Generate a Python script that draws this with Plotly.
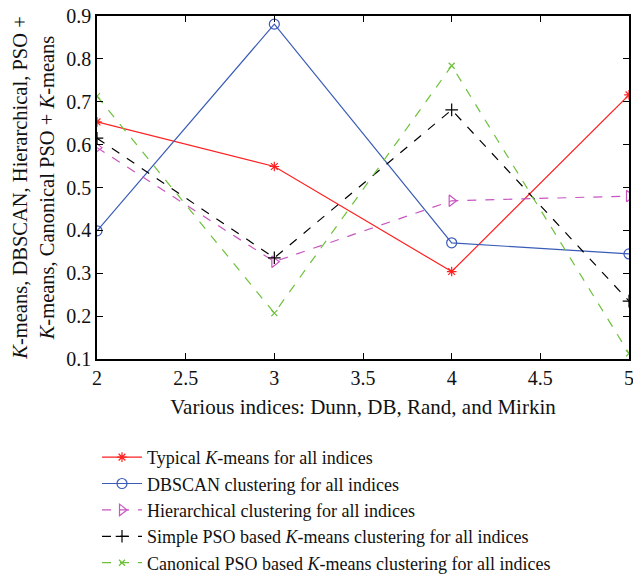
import plotly.graph_objects as go

x_vals = [2, 3, 4, 5]
typical_kmeans = [0.653, 0.549, 0.304, 0.716]
dbscan = [0.399, 0.881, 0.371, 0.345]
hierarchical = [0.593, 0.327, 0.469, 0.480]
simple_pso = [0.615, 0.336, 0.681, 0.235]
canonical_pso = [0.713, 0.207, 0.784, 0.113]

names = [
    "Typical <i>K</i>-means for all indices",
    "DBSCAN clustering for all indices",
    "Hierarchical clustering for all indices",
    "Simple PSO based <i>K</i>-means clustering for all indices",
    "Canonical PSO based <i>K</i>-means clustering for all indices",
]
series = [typical_kmeans, dbscan, hierarchical, simple_pso, canonical_pso]
colors = ["#ff2020", "#3a5cb8", "#c855c0", "#000000", "#6cc13a"]
dashes = ["solid", "solid", "dash", "dash", "dash"]
symbols = ["asterisk-open", "circle-open", "triangle-right-open", "cross-thin-open", "x-thin-open"]
sizes = [8, 10, 10, 9, 6]

fig = go.Figure()
for n, s, c, d, sym, sz in zip(names, series, colors, dashes, symbols, sizes):
    fig.add_trace(go.Scatter(
        x=x_vals, y=s, name=n, mode="lines+markers",
        line=dict(color=c, width=1.2, dash=d),
        marker=dict(symbol=sym, size=sz, color=c, line=dict(color=c, width=1.2)),
    ))

font_family = "Liberation Serif, Times New Roman, serif"
fig.update_layout(
    width=633, height=576,
    margin=dict(l=97, r=4, t=16, b=217, autoexpand=False),
    paper_bgcolor="white", plot_bgcolor="white",
    font=dict(family=font_family, size=20, color="#111"),
    showlegend=True,
    legend=dict(
        x=0.0, y=-0.233, xanchor="left", yanchor="top",
        font=dict(family=font_family, size=18, color="#111"),
        bgcolor="rgba(0,0,0,0)", tracegroupgap=0, itemwidth=40,
    ),
    xaxis=dict(
        range=[2, 5], tickvals=[2, 2.5, 3, 3.5, 4, 4.5, 5],
        ticktext=["2", "2.5", "3", "3.5", "4", "4.5", "5"],
        showgrid=False, zeroline=False,
        showline=True, linecolor="black", linewidth=1.5, mirror="ticks",
        ticks="inside", ticklen=6, tickcolor="black",
        tickfont=dict(size=20), ticklabeloverflow="allow",
        title=dict(text="Various indices: Dunn, DB, Rand, and Mirkin", standoff=12,
                   font=dict(size=21)),
    ),
    yaxis=dict(
        range=[0.1, 0.9], tickvals=[0.1, 0.2, 0.3, 0.4, 0.5, 0.6, 0.7, 0.8, 0.9],
        ticktext=["0.1", "0.2", "0.3", "0.4", "0.5", "0.6", "0.7", "0.8", "0.9"],
        showgrid=False, zeroline=False,
        showline=True, linecolor="black", linewidth=1.5, mirror="ticks",
        ticks="inside", ticklen=6, tickcolor="black",
        tickfont=dict(size=20), ticklabeloverflow="allow",
        title=dict(text="<i>K</i>-means, DBSCAN, Hierarchical, PSO +<br><i>K</i>-means, Canonical PSO + <i>K</i>-means",
                   standoff=6, font=dict(size=20.5)),
    ),
)
fig.write_html("out.html")
